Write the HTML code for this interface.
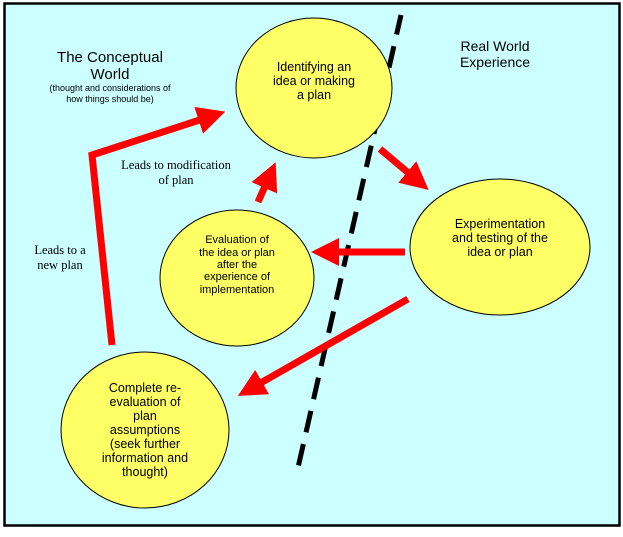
<!DOCTYPE html>
<html><head><style>
body{margin:0;background:#fff;width:623px;height:532px;overflow:hidden}
</style></head><body>
<svg width="623" height="532" viewBox="0 0 623 532" xmlns="http://www.w3.org/2000/svg">
<defs>
<marker id="a" markerWidth="4" markerHeight="4" refX="2" refY="2" orient="auto" markerUnits="strokeWidth">
<path d="M0,0 L4,2 L0,4 Z" fill="#ff0000"/></marker>
</defs>
<rect x="4.5" y="3.5" width="615" height="522" fill="#ccffff" stroke="#000" stroke-width="2.5"/>
<g fill="#ffff66" stroke="#000" stroke-width="1">
<ellipse cx="500" cy="247" rx="90" ry="68"/>
<ellipse cx="237" cy="278" rx="77" ry="68"/>
<ellipse cx="145" cy="430" rx="84" ry="78"/>
</g>
<line x1="401" y1="15" x2="297" y2="472" stroke="#000" stroke-width="5" stroke-dasharray="22,12" stroke-dashoffset="2"/>
<ellipse cx="314" cy="88" rx="78" ry="70" fill="#ffff66" stroke="#000" stroke-width="1"/>
<g stroke="#ff0000" stroke-width="7" fill="none">
<polyline points="112,345 92,155 212,116" marker-end="url(#a)"/>
<line x1="258" y1="202" x2="270" y2="175" marker-end="url(#a)"/>
<line x1="380" y1="149" x2="418" y2="181" marker-end="url(#a)"/>
<line x1="405" y1="252" x2="325" y2="252" marker-end="url(#a)"/>
<line x1="408" y1="299" x2="250" y2="389" marker-end="url(#a)"/>
</g>
<g font-family="Liberation Sans, sans-serif" fill="#000" text-anchor="middle">
<text x="110" y="62" font-size="15">The Conceptual</text>
<text x="110" y="79" font-size="15">World</text>
<text x="110" y="91" font-size="9">(thought and considerations of</text>
<text x="110" y="102" font-size="9">how things should be)</text>
<text x="495" y="51" font-size="14">Real World</text>
<text x="495" y="67" font-size="14">Experience</text>
<g font-size="12.5">
<text x="314" y="71">Identifying an</text>
<text x="314" y="85">idea or making</text>
<text x="314" y="99">a plan</text>
<text x="500" y="228">Experimentation</text>
<text x="500" y="242">and testing of the</text>
<text x="500" y="256">idea or plan</text>
<text x="145" y="392">Complete re-</text>
<text x="145" y="406">evaluation of</text>
<text x="145" y="420">plan</text>
<text x="145" y="434">assumptions</text>
<text x="145" y="448">(seek further</text>
<text x="145" y="462">information and</text>
<text x="145" y="476">thought)</text>
</g>
<g font-size="11">
<text x="237" y="243">Evaluation of</text>
<text x="237" y="256">the idea or plan</text>
<text x="237" y="268">after the</text>
<text x="237" y="280">experience of</text>
<text x="237" y="293">implementation</text>
</g>
</g>
<g font-family="Liberation Serif, serif" font-size="12.5" fill="#000" text-anchor="middle">
<text x="176" y="169">Leads to modification</text>
<text x="176" y="184">of plan</text>
<text x="60" y="254">Leads to a</text>
<text x="60" y="269">new plan</text>
</g>
</svg>
</body></html>
